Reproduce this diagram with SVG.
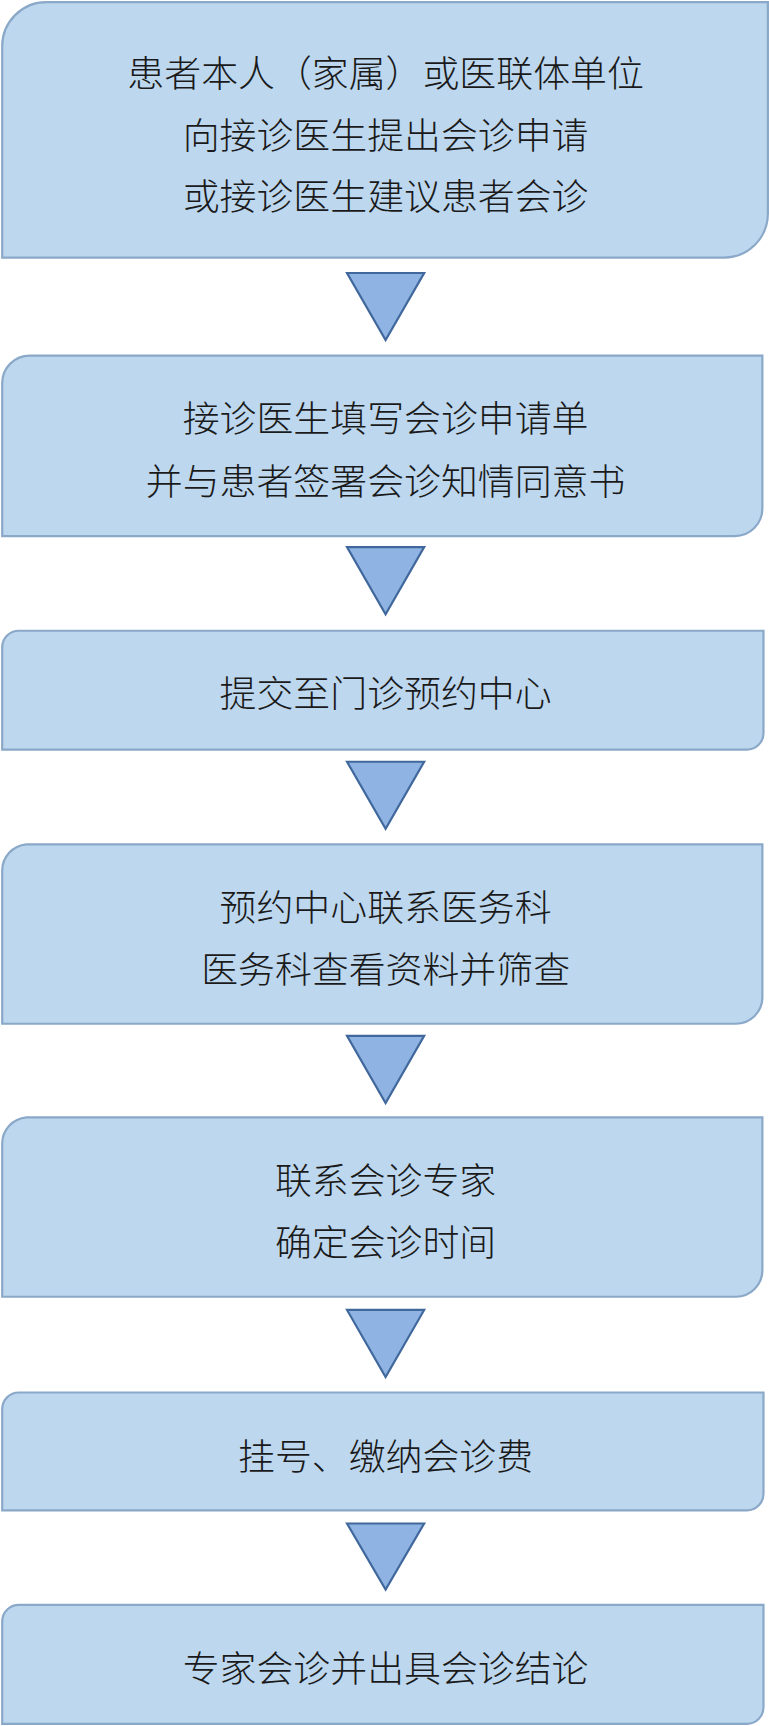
<svg xmlns="http://www.w3.org/2000/svg" width="769" height="1726" viewBox="0 0 769 1726">
<style>
.b{fill:#BDD7EE;stroke:#8AA8C8;stroke-width:2}
.t{fill:#8FB4E3;stroke:#41689C;stroke-width:2}
text{font-family:"Noto Sans CJK SC","Noto Sans",sans-serif;font-size:33.5px;font-weight:300;fill:#1a1a1a;text-anchor:middle;dominant-baseline:middle}
</style>
<rect width="769" height="1726" fill="#fff"/>
<g transform="scale(1.1017,1.1008)">
<g id="n1"><path class="b" d="M42,2H697V194A40,40 0 0 1 657,234H2V42A40,40 0 0 1 42,2Z"/><text x="350" y="70">患者本人（家属）或医联体单位</text><text x="350" y="126">向接诊医生提出会诊申请</text><text x="350" y="182">或接诊医生建议患者会诊</text></g>
<g id="n2"><path class="b" d="M27,323H692V462A25,25 0 0 1 667,487H2V348A25,25 0 0 1 27,323Z"/><text x="350" y="383">接诊医生填写会诊申请单</text><text x="350" y="441">并与患者签署会诊知情同意书</text></g>
<g id="n3"><path class="b" d="M17,573H693V666A15,15 0 0 1 678,681H2V588A15,15 0 0 1 17,573Z"/><text x="350" y="633">提交至门诊预约中心</text></g>
<g id="n4"><path class="b" d="M24,767H692V906A24,24 0 0 1 668,930H2V791A24,24 0 0 1 24,767Z"/><text x="350" y="828">预约中心联系医务科</text><text x="350" y="884">医务科查看资料并筛查</text></g>
<g id="n5"><path class="b" d="M24,1015H692V1154A24,24 0 0 1 668,1178H2V1039A24,24 0 0 1 24,1015Z"/><text x="350" y="1076">联系会诊专家</text><text x="350" y="1132">确定会诊时间</text></g>
<g id="n6"><path class="b" d="M17,1265H693V1357A15,15 0 0 1 678,1372H2V1280A15,15 0 0 1 17,1265Z"/><text x="350" y="1326">挂号、缴纳会诊费</text></g>
<g id="n7"><path class="b" d="M17,1458H693V1551A15,15 0 0 1 678,1566H2V1473A15,15 0 0 1 17,1458Z"/><text x="350" y="1519">专家会诊并出具会诊结论</text></g>
<g id="connectors">
<path class="t" d="M315,248H385L350,309Z"/>
<path class="t" d="M315,497H385L350,558Z"/>
<path class="t" d="M315,692H385L350,753Z"/>
<path class="t" d="M315,941H385L350,1002Z"/>
<path class="t" d="M315,1190H385L350,1251Z"/>
<path class="t" d="M315,1384H385L350,1444Z"/>
</g>
</g>
</svg>
